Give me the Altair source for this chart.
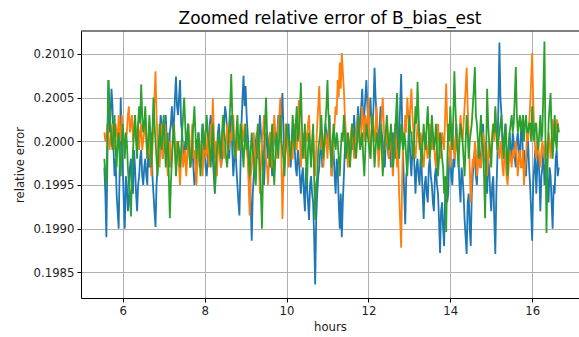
import pandas as pd
import altair as alt

# Sampling grid: one estimate every 0.025 h starting at 5.55 h
T0, DT = 5.55, 0.025

# Relative-error deviations from 0.2, in units of 1e-4 (one row per hour of samples)
blue_dev = [
    -3, -6, -11, -2, 7, 1, 3, 6, 4, -1, -4, -2, -6, -8, -10, -3, 5, 0, -3, -7, -10, -4, -5, -8, -7, -3, -2, -5, -6, -1, -3, -6, -8, -5, -4, -2, -1, -4, -5, -3,
    -2, -4, -5, 0, -3, -1, 1, -4, -6, -8, -9.8, -5, -3, -1, 0, 3, 2, -2, -1, 1, 3, 0, -2, -3, 1, 2, 4, 1, 2, 5, 7.4, 4, 3, 5, 7, 2, 1, -1, -2, 0,
    -1, 1, 2, -1, -3, -2, 0, -3, -5, -4, -2, 0, 1, -1, -3, 0, 2, 1, -1, -3, -4, -2, 0, 2, 3, 1, -2, -4, -6, -3, -1, 1, 2, 0, -3, -2, 0, 2, 4, 3,
    1, -1, -2, 1, 3, -1, -4, -2, 0, -3, -5, -7, -8.5, -3, 2, 5, 7.5, 4, 6.3, 3, 1, -1, -3, -7, -11.4, -6, -4, -2, 0, 1, -2, 0, 3, 1, -1, -3, -5, -2, 1, 0,
    -2, 0, 1, -2, -4, -1, 2, 0, -1, 1, 3, 2, 1, 3, 5.5, 1, -2, -1, 0, 1, 2, -1, -3, -1, 1, 0, -1, -3, -4, -1, -2, -4, -6, -4, -3, -6, -8, -3, -5, -7,
    -9, -5, -4, -6, -7, -11, -16.4, -9, -6, -4, -3, -1, 0, -3, -2, 0, 2, 1, -1, 1, 3, 0, -4, -2, -1, -4, -6, -2, -3, -7, -10, -6, -11, -7, -4, -1, 1, -1, -2, 0,
    -2, 0, 1, -1, 3, 1, -1, 2, 4, 1, 2, 4, 6, 2, 3, 5, 7, 4, 2, 3, 5, 2, 1, 4, 8.4, 5, 3, 1, -1, 2, 4, 1, 0, -2, -3, 0, 2, -1, -2, 0,
    -3, -1, 1, -1, -2, 1, 3, -1, 0, 4, 7.7, 2, -2, -6, -9.5, -4, -3, -1, 1, -2, -4, -1, 0, -3, -6, -3, -2, -4, -5, -2, -3, -6, -8.9, -5, -4, -6, -7, -3, -2, -4,
    -5, -7, -8, -4, -3, -5, -6, -9, -12.8, -8, -7, -10, -12, -6, -4, -7, -6, -2, -1, -4, -5, -2, -3, 0, 2, -1, -2, -5, -7, -3, -4, -6, -9, -11, -12.9, -7, -6, -10, -12, -6,
    -4, -2, -1, -4, -5, -2, 0, -2, -3, 0, 2, -1, -2, -4, -6, -2, -3, -6, -8, -5, -4, -9, -12.9, -6, -2, 4, 11.3, 5, 3, 0, -1, 1, 2, -1, -3, -1, 1, -1, -2, 1,
    0, -2, -3, 0, 1, -1, -2, 1, 2, -2, -1, -3, -4, -1, 0, -3, -5, -8, -11.4, -5, -3, -1, -6, -3, -1, -4, -8, -4, -3, -1, -5, -3, -2, -5, -7, -3, -4, -7, -10, -5,
    -6, -2, -1, -4, -3,
]
orange_dev = [
    1, 0, 0.5, 2, 1, -1, 0, 1, 2, 0, -1, 2, 1, 0, 3, 1, 0, 3, 2, 0, -1, 0, 1, 3, 4, 1, 2, 3, 0, 1, 3, 0, 1, 2, -1, 1, 2, -1, 0, 1,
    3, 0, -2, -1, 1, -2, -4, -1, 2, 5, 8, 3, 0, -2, -3, 0, 2, -2, -1, 2, 1, -2, -4, -1, 0, -3, -2, 1, 2, -1, -3, 0, -1, -3, -5, -2, 0, -3, -2, -1,
    -4, -2, 1, -1, -3, 0, 2, -2, -1, -3, -5, -2, 0, -3, -2, 0, -4, -1, 1, -2, -1, 1, -3, -1, 2, 0, 4.9, 1, -2, 0, -4, -1, 0, -2, -3, 0, 1, -2, -1, 0,
    2, 0, -1, 1, 0, 2, 3, 0, -2, -1, 1, -1, -1, 0, 2, 1, 0, 2, 1, -1, -2, -5, -8.5, -4, -3, -1, 1, -2, -4, 0, 2, -2, -6, -3, 0, 1, 3, 0, -2, -3,
    -5, -2, 1, -1, -3, 0, 3, 1, -2, 0, 2, 3, 5, -2, -8.9, -4, -1, 2, 1, -1, -3, -1, 0, -2, -2, 1, 2, 0, -1, 2, 4.7, 1, -3, -1, 1, -1, -2, 1, 0, 2,
    3, 0, -2, -1, 1, -2, -4, -1, 2, 4, 6.3, 2, -1, 1, -3, -1, 1, 0, -2, 1, 2, -1, -4, -2, 0, 2, 4, 3, 7, 5, 9, 6, 10.1, 8, 6, 3, 1, -1, -3, 0,
    -1, 1, 2, 0, -2, -1, 1, 2, 3, 0, -1, 1, 4, 2, 0, 3, 2, 1, 5, 1, -2, 0, 3, 1, 0, 2, 4, 0, -3, -1, 1, 3, 5, 2, -1, 0, 2, 0, -2, 1,
    0, -2, -4, -1, 2, 0, -3, -1, -6, -9, -12.2, -4, 1, 0, 3, 1, 5, 3, 2, 4, 6, 3, 1, -1, -2, 0, 2, 1, -1, 1, 0, -2, -3, -1, 1, -1, -2, 0, 2, 0,
    -1, 1, 0, -2, -3, 0, 2, 0, -2, -1, 1, 0, -1, 3, 6.6, 2, 0, -1, -3, 0, 2, 0, -2, -1, 1, 0, -1, 1, 3, 1, 0, 2, 4, 6, 8.4, 4, 1, -3, -7, -4,
    -2, -3, 0, -1, -4, -2, -1, -3, -3, -1, 1, 0, -2, 0, -4, -2, 0, -2, -1, 1, 2, 0, 3.5, 1, 0, -1, -2, 0, -1, -3, -4, -1, -2, -4, -5, -3, -1, -2, -3, -1,
    -2, -1, 0, -2, -4, -2, -1, -3, -3, -1, -5, -3, -2, 1, 0, 2, 4, 7, 10.1, 5, 1, -1, -2, 0, -1, -2, -3, -1, 0, -1, -2, 0, -1, -2, 1, 0, -2, 0, 2.5, 1,
    0, 1, 2.5, 2, 1,
]
green_dev = [
    -2, -4, -5, 1, 7, 4, 2, 0, -1, 1, 3, -1, -3, 0, 1, -2, -4, -1, 2, 0, -2, 1, 0, -3, -5, -6, -8.6, -4, -1, 1, 3, 0, -2, 2, 4, 2, 6.5, 3, 1, 2,
    4, 1, -2, 0, 3, 1, -3, 1, 5, 2, 0, -2, -4, -1, 2, 0, -1, 1, 3, 0, -3, -1, 1, -4, -8.8, -5, -2, 0, 2, -1, -4, -2, 0, -1, -3, -1, 1, 3, 5, 2,
    -1, 0, 2, -1, -3, -2, 0, 2, 4, 1, -2, 0, 1, -2, -4, -1, 2, 0, -1, 1, 3, 1, 0, -1, -3, 0, 2, -2, -5.7, -3, -1, 0, 1, -1, -2, 1, 3, 1, 0, -2,
    -3, -1, 2, 4, 7.7, 3, 1, -1, -2, 1, 3, 0, -1, 2, 1, -1, -3, 0, 2, -1, 0, -2, -4, -1, 1, -1, -2, -4, -5, -1, 2, 0, -3, -6, -10, -4, -1, 2, 5, 1,
    0, -1, -3, 0, 2, -2, -5, -2, 1, 0, -2, 1, 3, 0, -1, -2, -4, -1, 2, 1, 0, -1, -2, 0, 3, 1, -1, 2, 4, 0, 1, 3, 6.7, 2, -2, 0, 2, -2, -5, -1,
    1, -1, -3, 0, 2, -4, -9, -5, -4, -1, 0, 1, 3, 0, -2, 0, 2, 4, 7, 3, 1, -1, -3, 0, 2, 0, -1, 1, 0, -2, -4, -1, 1, 0, 3, 1, -2, -1, 1, 0,
    -3, -1, 2, 1, 0, -1, -2, 0, 3, 1, -1, 0, 1, -2, -4, -1, 2, 1, 0, -1, -2, 1, 3, 0, -3, -1, 1, 0, -1, 0, 2, -1, -4, -2, 0, 1, 3, 1, -1, 0,
    2, 0, -3, -1, 1, 3, 5.5, 1, -2, 0, 2, 0, -1, 1, 0, -2, -4, 0, 3, 1, 1, -1, -2, 1, 4, 2, 6.8, 3, 0, -1, -3, 0, 2, 0, -1, 2, 4, 1, -2, 0,
    3, 1, -1, 0, 2, -1, -4, -2, 1, 0, -2, -3, -6, -4, -10.4, -3, 2, 0, 4, 1, -1, 3, 8, 4, 1, -1, -3, 0, 2, 1, 0, -2, -4, 0, 3, 1, -2, 0, 1, 2,
    4, 6, 8.5, 3, 2, 0, -2, 1, 3, 0, -1, -4, -8.8, -2, 6, 2, 0, -1, -3, 0, 2, 1, 4, 1, -1, 0, 1, 2, 3, 0, -2, 0, 2, -1, -4, -1, 1, 2, 3, 1,
    2, 5, 8.5, 3, 1, 2, 3, 1, 2, 3, 0, 2, 3, 1, 1, 2, 2, 0, 4, 1, 0, 2, 2, 0, -1, 1, 3, 0, 1, 6, 11.4, 0, -10.5, -3, 2, 4, 5.5, 1, -2, 0,
    3, 0, -1, 2, 1,
]

series_names = ["blue", "orange", "green"]
series_colors = ["#1f77b4", "#ff7f0e", "#2ca02c"]
x_ticks = [6, 8, 10, 12, 14, 16]
y_ticks = [0.1985, 0.1990, 0.1995, 0.2000, 0.2005, 0.2010]

hours = [round(T0 + DT * i, 3) for i in range(len(blue_dev))]
rows = []
for name, devs in zip(series_names, [blue_dev, orange_dev, green_dev]):
    for h, d in zip(hours, devs):
        rows.append({"hours": h, "error": 0.2 + d * 1e-4, "series": name})
df = pd.DataFrame(rows)

W, H = 498, 267
x_enc = alt.X(
    "hours:Q",
    scale=alt.Scale(domain=[4.98, 17.144], nice=False, zero=False),
    axis=alt.Axis(values=x_ticks, format="d", title="hours", titlePadding=5),
)
y_enc = alt.Y(
    "error:Q",
    scale=alt.Scale(domain=[0.198206, 0.201261], nice=False, zero=False),
    axis=alt.Axis(values=y_ticks, format=".4f", title="relative error", titlePadding=8),
)

layers = [
    alt.Chart(df)
    .transform_filter(alt.datum.series == name)
    .mark_line(color=color, strokeWidth=1.8, clip=True)
    .encode(x=x_enc, y=y_enc)
    for name, color in zip(series_names, series_colors)
]

# top spine of the axes frame
top_spine = (
    alt.Chart(pd.DataFrame({"k": [0]}))
    .mark_rule(color="black", strokeWidth=1)
    .encode(x=alt.value(0), x2=alt.value(W), y=alt.value(0))
)

chart = (
    alt.layer(*layers, top_spine)
    .properties(
        width=W,
        height=H,
        title=alt.TitleParams(
            "Zoomed relative error of B_bias_est",
            font="DejaVu Sans",
            fontSize=17,
            fontWeight="normal",
            color="black",
            anchor="middle",
            baseline="alphabetic",
            offset=7.5,
            dy=17.5,
        ),
        autosize=alt.AutoSizeParams(type="none"),
        padding={"left": 81, "top": 31, "right": 0, "bottom": 39},
    )
    .configure_view(stroke=None)
    .configure_axis(
        domainColor="black",
        domainWidth=1,
        tickColor="black",
        tickSize=4,
        tickWidth=1,
        gridColor="#b0b0b0",
        gridWidth=1,
        labelFont="DejaVu Sans",
        labelFontSize=11.7,
        labelColor="#222222",
        labelPadding=3,
        titleFont="DejaVu Sans",
        titleFontSize=11.7,
        titleFontWeight="normal",
        titleColor="#222222",
    )
)

chart.save("out.html", embed_options={"renderer": "svg", "actions": False})
